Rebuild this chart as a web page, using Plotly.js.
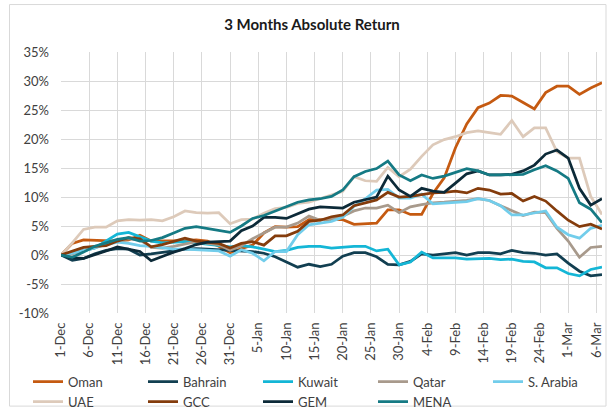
<!DOCTYPE html>
<html>
<head>
<meta charset="utf-8">
<script src="https://cdn.plot.ly/plotly-3.0.1.min.js"></script>
<style>
  html, body { margin:0; padding:0; background:#fff; }
  #chart { width:607px; height:409px; }
</style>
</head>
<body>
<div id="chart"></div>
<script>
// dates (every second day)
const dates = [
  "2022-12-01","2022-12-03","2022-12-05","2022-12-07","2022-12-09","2022-12-11","2022-12-13","2022-12-15",
  "2022-12-17","2022-12-19","2022-12-21","2022-12-23","2022-12-25","2022-12-27","2022-12-29","2022-12-31",
  "2023-01-02","2023-01-04","2023-01-06","2023-01-08","2023-01-10","2023-01-12","2023-01-14","2023-01-16",
  "2023-01-18","2023-01-20","2023-01-22","2023-01-24","2023-01-26","2023-01-28","2023-01-30","2023-02-01",
  "2023-02-03","2023-02-05","2023-02-07","2023-02-09","2023-02-11","2023-02-13","2023-02-15","2023-02-17",
  "2023-02-19","2023-02-21","2023-02-23","2023-02-25","2023-02-27","2023-03-01","2023-03-03","2023-03-05",
  "2023-03-07"
];

// returns in %
const oman = [0,2.0,2.6,2.5,2.5,2.4,2.6,3.4,2.4,2.4,2.5,2.5,2.6,2.4,1.5,0.4,1.1,1.7,3.8,4.9,4.8,4.9,6.1,6.1,6.1,6.1,5.3,5.4,5.5,7.8,7.8,7.0,7.0,10.6,13.3,18.5,22.6,25.4,26.2,27.5,27.4,26.3,25.2,28.0,29.1,29.1,27.7,28.8,29.7];
const bahrain = [0,-0.9,-0.6,0.2,0.8,1.1,1.0,0.0,0.2,0.4,0.7,1.0,1.1,1.0,0.9,0.7,0.7,0.6,0.3,-0.3,-1.2,-2.1,-1.6,-2.0,-1.6,-0.2,0.4,0.4,-0.3,-1.6,-1.7,-1.1,0.2,0.0,0.2,0.4,0.0,0.4,0.4,0.2,0.8,0.4,0.3,0.0,0.2,-1.4,-2.8,-3.6,-3.4];
const kuwait = [0,0.3,0.7,1.2,2.4,3.6,3.9,3.2,2.4,2.1,2.2,2.3,2.1,1.9,1.7,1.4,1.6,1.4,1.0,0.6,0.8,1.3,1.5,1.5,1.2,1.4,1.5,1.5,0.7,1.0,-1.7,-1.2,0.5,-0.5,-0.5,-0.5,-0.7,-0.7,-0.6,-0.8,-0.7,-1.1,-1.2,-2.2,-2.2,-3.2,-3.6,-2.5,-2.1];
const qatar = [0,0.2,0.8,1.2,2.0,2.5,2.8,2.6,1.3,1.2,1.5,1.9,2.3,2.0,1.8,0.8,1.6,2.8,3.8,4.8,4.8,5.5,6.7,6.0,6.3,6.7,7.6,8.1,8.1,8.6,7.3,8.3,8.7,9.0,9.1,9.2,9.4,9.7,9.4,8.5,7.6,6.8,7.4,7.3,4.6,2.4,-0.4,1.3,1.5];
const sArabia = [0,0.3,0.8,1.2,1.8,2.2,2.0,1.6,1.5,1.2,1.0,1.0,0.9,0.8,0.7,-0.2,0.9,0.3,-1.0,0.6,0.6,3.5,5.2,5.5,5.8,6.5,8.4,9.7,11.2,11.3,9.8,9.8,10.5,8.8,8.9,9.0,9.2,9.7,9.4,8.5,6.9,6.9,7.2,7.6,4.8,3.5,2.9,4.6,5.1];
const uae = [0,2.1,4.4,4.8,4.8,5.9,6.1,6.0,6.1,5.9,6.6,7.6,7.3,7.2,7.3,5.4,6.1,6.2,7.2,8.0,8.2,8.9,9.1,9.7,10.4,11.0,13.5,12.8,12.7,15.1,13.5,14.8,17.0,19.0,19.9,20.4,21.1,21.4,21.1,20.8,23.2,20.4,21.9,21.9,17.8,16.7,16.7,10.1,7.0];
const gcc = [0,0.6,1.3,1.5,1.6,2.4,3.0,2.8,1.4,1.8,2.3,2.9,2.4,2.2,2.0,1.2,2.0,2.3,1.7,3.3,3.3,4.1,5.8,6.0,6.6,6.9,8.5,9.0,9.5,10.8,10.0,10.1,10.4,10.7,10.8,11.0,10.7,11.5,11.2,10.5,10.6,9.3,10.1,9.3,7.6,6.0,4.9,5.3,4.5];
const gem = [0,-0.5,-0.6,0.0,0.7,1.4,1.0,0.6,-1.0,-0.2,0.5,1.1,1.8,2.2,2.3,2.4,4.2,5.0,6.5,6.5,6.3,7.1,7.9,8.3,8.2,8.1,9.1,9.5,10.0,13.6,11.2,10.1,11.5,11.0,10.8,12.4,14.0,14.5,13.8,13.8,13.9,14.5,15.5,17.4,18.1,16.7,11.5,8.6,9.7];
const mena = [0,-0.4,0.5,1.5,2.1,2.7,3.0,2.4,2.5,3.0,3.8,4.6,4.9,4.6,4.2,3.9,5.0,6.3,6.8,7.6,8.4,9.1,9.5,9.7,10.1,11.2,13.5,14.4,14.9,16.2,13.8,12.8,13.8,13.2,13.6,14.2,14.9,14.5,13.8,13.8,13.8,13.9,14.7,15.4,14.5,13.2,9.0,7.9,5.6];

const names = ["Oman","Bahrain","Kuwait","Qatar","S. Arabia","UAE","GCC","GEM","MENA"];
const series = [oman, bahrain, kuwait, qatar, sArabia, uae, gcc, gem, mena];
const colors = ["#C55A11","#123F51","#14B6D6","#A89A8C","#72CDEB","#DDCABA","#843C0C","#0C2A38","#157A84"];

const yTickVals = [-10,-5,0,5,10,15,20,25,30,35];
const yTickText = ["-10%","-5%","0%","5%","10%","15%","20%","25%","30%","35%"];

const traces = names.map((name, i) => ({
  x: dates,
  y: series[i],
  name: name,
  type: "scatter",
  mode: "lines",
  line: {color: colors[i], width: 2.75},
  hoverinfo: "skip"
}));

const layout = {
  width: 607,
  height: 409,
  margin: {l: 61, r: 5, t: 52, b: 96, autoexpand: false},
  paper_bgcolor: "#ffffff",
  plot_bgcolor: "#ffffff",
  font: {family: "Lato, 'Open Sans', sans-serif", size: 13, color: "#404040"},
  title: {
    text: "3 Months Absolute Return",
    font: {size: 15, color: "#1a1a1a", weight: 700},
    x: 312/607, xref: "container", xanchor: "center",
    y: 1 - 25/409, yref: "container", yanchor: "middle"
  },
  xaxis: {
    type: "date",
    range: ["2022-12-01", "2023-03-07"],
    tick0: "2022-12-01",
    dtick: 5 * 86400000,
    tickformat: "%-d-%b",
    tickangle: -90,
    showgrid: true,
    gridcolor: "#D9D9D9",
    gridwidth: 1,
    zeroline: false,
    showline: false,
    ticks: "",
    ticklabelstandoff: 6,
    tickfont: {size: 13, color: "#404040"}
  },
  yaxis: {
    range: [-10, 35],
    tickvals: yTickVals,
    ticktext: yTickText,
    showgrid: true,
    gridcolor: "#D9D9D9",
    gridwidth: 1,
    zeroline: false,
    showline: false,
    ticks: "",
    ticklabelstandoff: 11,
    tickfont: {size: 13, color: "#404040"}
  },
  legend: {
    orientation: "h",
    x: -0.061, xanchor: "left",
    y: -0.206, yanchor: "top",
    entrywidth: 70,
    entrywidthmode: "pixels",
    font: {size: 13, color: "#404040"},
    bgcolor: "rgba(0,0,0,0)",
    traceorder: "normal"
  },
  shapes: [{
    type: "rect", xref: "paper", yref: "paper",
    x0: -0.0952, x1: 1.0074, y0: -0.3567, y1: 1.1818,
    line: {color: "#D9D9D9", width: 1},
    fillcolor: "rgba(0,0,0,0)",
    layer: "below"
  }],
  showlegend: true
};

Plotly.newPlot("chart", traces, layout, {staticPlot: true, displayModeBar: false});
</script>
</body>
</html>
